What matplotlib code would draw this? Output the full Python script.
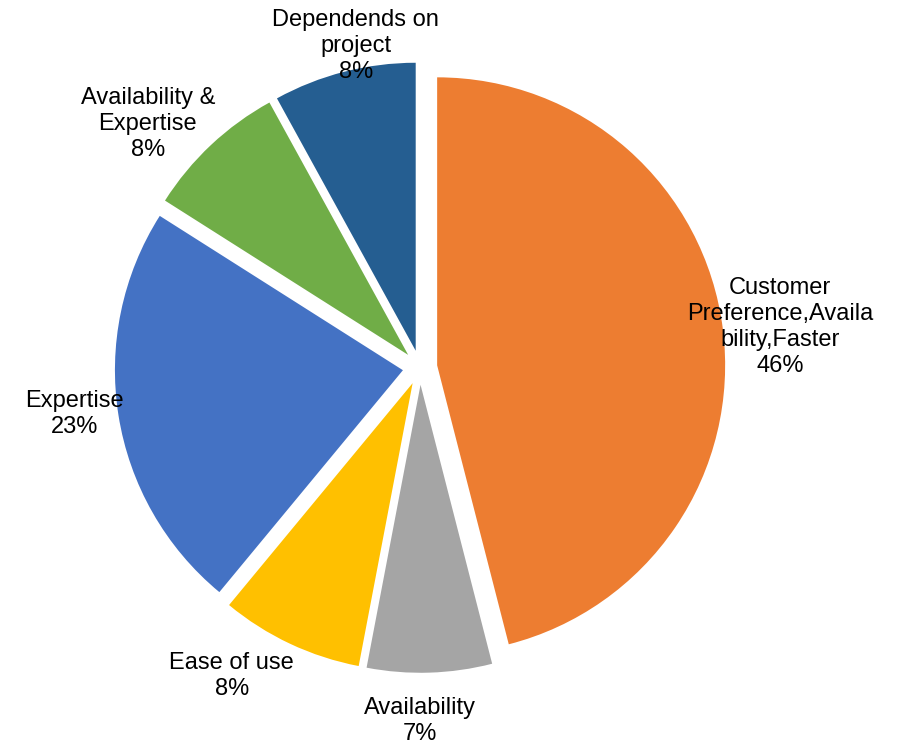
import numpy as np
import matplotlib.pyplot as plt

plt.rcParams['font.family'] = ['Liberation Sans', 'DejaVu Sans']

# 调查结果：选择原因占比（%）
categories = ['Customer\nPreference,Availa\nbility,Faster', 'Availability', 'Ease of use',
              'Expertise', 'Availability &\nExpertise', 'Dependends on\nproject']
shares = [46, 7, 8, 23, 8, 8]
colors = ['#ED7D31', '#A5A5A5', '#FFC000', '#4472C4', '#70AD47', '#255E91']

# 标签离圆心的距离（半径倍数）和角度微调（度，顺时针）
label_dist = [1.258, 1.227, 1.255, 1.212, 1.268, 1.138]
label_shift = [0.8, 1.8, 6.2, 1.3, -5.0, 3.1]
EXPLODE = 0.06

fig = plt.figure(figsize=(9.04, 7.46), dpi=100)
ax = fig.add_axes([0, 0, 1, 1])

ax.pie(shares, colors=colors, startangle=90, counterclock=False,
       explode=[EXPLODE] * len(shares), radius=1.0,
       wedgeprops=dict(linewidth=0))

# 数据标签：类别 + 百分比，放在各扇区外侧
total = sum(shares)
start = 0.0
for name, val, d, sh in zip(categories, shares, label_dist, label_shift):
    mid = (start + val / 2) / total * 360 + sh
    start += val
    phi = np.deg2rad(mid)
    ax.text(d * np.sin(phi), d * np.cos(phi), f'{name}\n{val}%',
            ha='center', va='center', fontsize=17, linespacing=1.25)

# 圆心在画布中的位置，1 个单位 = 288 像素
cx, cy, unit = 420, 367.5, 288
ax.set_xlim(-cx / unit, (904 - cx) / unit)
ax.set_ylim(-(746 - cy) / unit, cy / unit)
ax.set_aspect('auto')
ax.axis('off')

fig.savefig('out.png', dpi=100, facecolor='white')
